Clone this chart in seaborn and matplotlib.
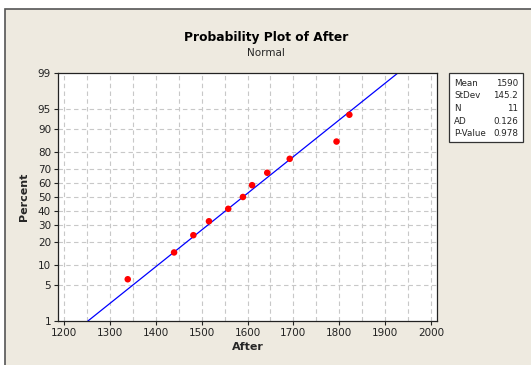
import numpy as np
import pandas as pd
import seaborn as sns
import matplotlib.pyplot as plt
from matplotlib.patches import Rectangle
from statistics import NormalDist

# data
after = [1339, 1440, 1482, 1516, 1558, 1590, 1610, 1643, 1692, 1794, 1822]
mean_after = 1590
sd_after = 145.2
stat_names = ['Mean', 'StDev', 'N', 'AD', 'P-Value']
stat_values = ['1590', '145.2', '11', '0.126', '0.978']
pct_ticks = [1, 5, 10, 20, 30, 40, 50, 60, 70, 80, 90, 95, 99]
x_ticks = [1200, 1300, 1400, 1500, 1600, 1700, 1800, 1900, 2000]

nd = NormalDist()
n = len(after)
ranks = np.arange(1, n + 1)
pct = (ranks - 0.3) / (n + 0.4)  # median ranks, as Minitab does
df = pd.DataFrame({'After': sorted(after), 'z': [nd.inv_cdf(p) for p in pct]})

z_lo, z_hi = nd.inv_cdf(0.01), nd.inv_cdf(0.99)
fit = pd.DataFrame({'z': [z_lo, z_hi]})
fit['After'] = mean_after + sd_after * fit['z']

sns.set_style('white')
plt.rcParams['font.family'] = ['DejaVu Sans']

fig = plt.figure(figsize=(5.31, 3.65), dpi=100, facecolor='white')
bg = '#eeeae0'
fig.patches.append(Rectangle((5 / 531, -0.05), 1.1, 1 - 9 / 365 + 0.05,
                             transform=fig.transFigure, facecolor=bg,
                             edgecolor='#555555', linewidth=1.2, zorder=-10))

ax = fig.add_axes([58 / 531, 1 - 321 / 365, (437 - 58) / 531, (321 - 73) / 365])
ax.set_facecolor('white')

# grid
for xv in range(1200, 2001, 50):
    ax.axvline(xv, color='#c8c8c8', lw=0.8, ls=(0, (4, 3)), zorder=0)
for p in pct_ticks[1:-1]:
    ax.axhline(nd.inv_cdf(p / 100), color='#c8c8c8', lw=0.8, ls=(0, (4, 3)), zorder=0)

sns.lineplot(data=fit, x='After', y='z', color='#0000ff', lw=0.9, ax=ax)
sns.scatterplot(data=df, x='After', y='z', color='#ff0000', s=22,
                edgecolor='none', ax=ax, zorder=3)

ax.set_xlim(1187, 2013)
ax.set_ylim(z_lo, z_hi)
ax.set_xticks(x_ticks)
ax.set_yticks([nd.inv_cdf(p / 100) for p in pct_ticks])
ax.set_yticklabels([str(p) for p in pct_ticks])
ax.tick_params(axis='both', direction='out', length=3, width=0.8, labelsize=7.5,
               colors='#222222', pad=2, bottom=True, left=True)
for s in ax.spines.values():
    s.set_color('#222222')
    s.set_linewidth(0.9)

ax.set_xlabel('After', fontsize=8, fontweight='bold', labelpad=3)
ax.set_ylabel('Percent', fontsize=8, fontweight='bold', labelpad=6)

fig.text(266 / 531, 1 - 37 / 365, 'Probability Plot of After', ha='center',
         va='center', fontsize=8.8, fontweight='bold', color='black')
fig.text(266 / 531, 1 - 53 / 365, 'Normal', ha='center', va='center', fontsize=7.5)

# statistics box
fig.patches.append(Rectangle((449 / 531, 1 - 142 / 365), 74 / 531, 69 / 365,
                             transform=fig.transFigure, facecolor='white',
                             edgecolor='#333333', linewidth=0.9, zorder=1))
for i, (k, v) in enumerate(zip(stat_names, stat_values)):
    y = 1 - (83 + 12.7 * i) / 365
    fig.text(454 / 531, y, k, ha='left', va='center', fontsize=6.3)
    fig.text(518 / 531, y, v, ha='right', va='center', fontsize=6.3)

fig.savefig('out.png', dpi=100, facecolor=fig.get_facecolor())
